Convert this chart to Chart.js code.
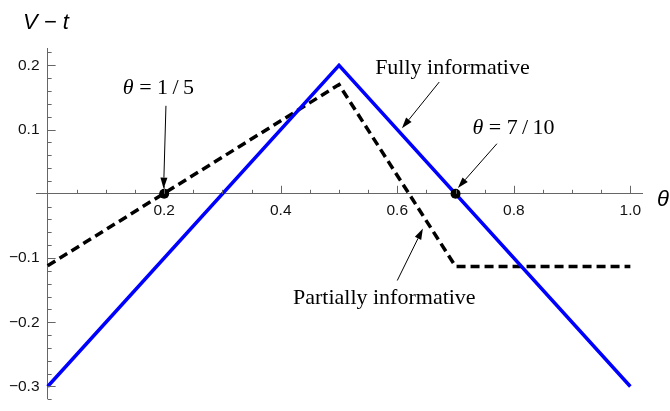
<!DOCTYPE html>
<html>
<head>
<meta charset="utf-8">
<script src="https://cdn.jsdelivr.net/npm/chart.js@4/dist/chart.umd.min.js"></script>
<style>
  html, body { margin: 0; padding: 0; background: #fff; }
  #wrap { width: 670px; height: 411px; }
</style>
</head>
<body>
<div id="wrap"><canvas id="chart"></canvas></div>
<script>
// values
const fullTheta = [0, 0.5, 1];
const fullValue = [-0.3, 0.2, -0.3];
const partialTheta = [0, 0.5, 0.7, 1];
const partialValue = [-0.112, 0.17, -0.113, -0.113];
const markTheta = [0.2, 0.7];
const markValue = [0, 0];
const xTickLabels = [0.2, 0.4, 0.6, 0.8, 1.0];
const yTickLabels = [-0.3, -0.2, -0.1, 0.1, 0.2];

const AXIS = '#666';
const SERIF = '"Liberation Serif", "Times New Roman", serif';
const SANS = '"Liberation Sans", Arial, sans-serif';

// annotation texts, anchored in data units
const notes = [
    { parts: [['θ', 'italic'], [' = 1\u2009/\u20095', 'normal']], at: [0.129, 0.156], from: [0.203, 0.137], to: [0.199, 0.008] },
    { parts: [['Fully informative', 'normal']], at: [0.562, 0.186], from: [0.672, 0.174], to: [0.608, 0.102] },
    { parts: [['θ', 'italic'], [' = 7\u2009/\u200910', 'normal']], at: [0.729, 0.093], from: [0.771, 0.078], to: [0.704, 0.009] },
    { parts: [['Partially informative', 'normal']], at: [0.421, -0.171], from: [0.600, -0.135], to: [0.644, -0.054] }
];

const toPoints = (xs, ys) => xs.map((x, i) => ({ x: x, y: ys[i] }));

// Mathematica-like tick marks on the crossing axes
const tickMarks = {
    id: 'tickMarks',
    afterDraw(chart) {
        const ctx = chart.ctx;
        const xs = chart.scales.x, ys = chart.scales.y;
        const x0 = xs.getPixelForValue(0), y0 = ys.getPixelForValue(0);
        ctx.save();
        ctx.strokeStyle = AXIS;
        ctx.lineWidth = 1;
        ctx.beginPath();
        for (let i = 1; i <= 20; i++) {
            const px = Math.round(xs.getPixelForValue(i * 0.05)) + 0.5;
            const len = i % 4 === 0 ? 8 : 4;
            ctx.moveTo(px, y0);
            ctx.lineTo(px, y0 - len);
        }
        for (let j = -16; j <= 11; j++) {
            if (j === 0) continue;
            const py = Math.round(ys.getPixelForValue(j * 0.02)) + 0.5;
            const len = j % 5 === 0 ? 8 : 4;
            ctx.moveTo(x0, py);
            ctx.lineTo(x0 + len, py);
        }
        ctx.stroke();

        // axis titles
        ctx.fillStyle = '#000';
        ctx.font = 'italic 22px ' + SANS;
        ctx.textBaseline = 'alphabetic';
        ctx.fillText('V \u2212 t', 23, 29);
        ctx.fillText('θ', 657, 206);
        ctx.restore();
    }
};

const annotations = {
    id: 'annotations',
    afterDraw(chart) {
        const ctx = chart.ctx;
        const xs = chart.scales.x, ys = chart.scales.y;
        const px = p => [xs.getPixelForValue(p[0]), ys.getPixelForValue(p[1])];
        ctx.save();
        ctx.fillStyle = '#000';
        ctx.strokeStyle = '#000';
        ctx.textBaseline = 'alphabetic';
        notes.forEach(n => {
            let [tx, ty] = px(n.at);
            n.parts.forEach(([txt, style]) => {
                ctx.font = style + ' 22px ' + SERIF;
                ctx.fillText(txt, tx, ty);
                tx += ctx.measureText(txt).width;
            });
            const [ax, ay] = px(n.from);
            const [bx, by] = px(n.to);
            const ang = Math.atan2(by - ay, bx - ax);
            const hl = 11, hw = 3.5;
            const cx = bx - hl * Math.cos(ang), cy = by - hl * Math.sin(ang);
            ctx.lineWidth = 1;
            ctx.beginPath();
            ctx.moveTo(ax, ay);
            ctx.lineTo(cx, cy);
            ctx.stroke();
            ctx.beginPath();
            ctx.moveTo(bx, by);
            ctx.lineTo(cx - hw * Math.sin(ang), cy + hw * Math.cos(ang));
            ctx.lineTo(cx + hw * Math.sin(ang), cy - hw * Math.cos(ang));
            ctx.closePath();
            ctx.fill();
        });
        ctx.restore();
    }
};

const yMin = -0.319, yMax = 0.227;
const labelFont = { family: SANS, size: 15.5 };
const fmt = v => (v < 0 ? '\u2212' : '') + Math.abs(v).toFixed(1);

new Chart(document.getElementById('chart'), {
    type: 'scatter',
    data: {
        datasets: [
            {
                label: 'marks',
                data: toPoints(markTheta, markValue),
                pointRadius: 5,
                pointBackgroundColor: '#000',
                pointBorderWidth: 0,
                showLine: false
            },
            {
                label: 'Fully informative',
                data: toPoints(fullTheta, fullValue),
                showLine: true,
                borderColor: '#0000ff',
                borderWidth: 3.5,
                pointRadius: 0,
                fill: false
            },
            {
                label: 'Partially informative',
                data: toPoints(partialTheta, partialValue),
                showLine: true,
                borderColor: '#000',
                borderWidth: 3.5,
                borderDash: [9, 5],
                pointRadius: 0,
                fill: false
            }
        ]
    },
    options: {
        responsive: true,
        maintainAspectRatio: false,
        devicePixelRatio: 1,
        animation: false,
        layout: { padding: { left: 36, right: 28, top: 48, bottom: 0 } },
        plugins: { legend: { display: false }, tooltip: { enabled: false } },
        scales: {
            x: {
                type: 'linear',
                min: -0.02,
                max: 1.02,
                position: { y: 0 },
                grid: { display: false, drawTicks: false, tickLength: 0 },
                border: { display: true, color: AXIS, width: 1 },
                afterBuildTicks: s => { s.ticks = xTickLabels.map(v => ({ value: v })); },
                ticks: { padding: 8, font: labelFont, color: '#111', maxRotation: 0, autoSkip: false, callback: v => fmt(v) }
            },
            y: {
                type: 'linear',
                min: yMin,
                max: yMax,
                position: { x: 0 },
                grid: { display: false, drawTicks: false, tickLength: 0 },
                border: { display: true, color: AXIS, width: 1 },
                ticks: { display: false }
            },
            yLab: {
                type: 'linear',
                min: yMin,
                max: yMax,
                position: { x: -0.014 },
                grid: { display: false, drawTicks: false, tickLength: 0 },
                border: { display: false },
                afterBuildTicks: s => { s.ticks = yTickLabels.map(v => ({ value: v })); },
                ticks: { font: labelFont, color: '#111', autoSkip: false, callback: v => fmt(v) }
            }
        }
    },
    plugins: [tickMarks, annotations]
});
</script>
</body>
</html>
